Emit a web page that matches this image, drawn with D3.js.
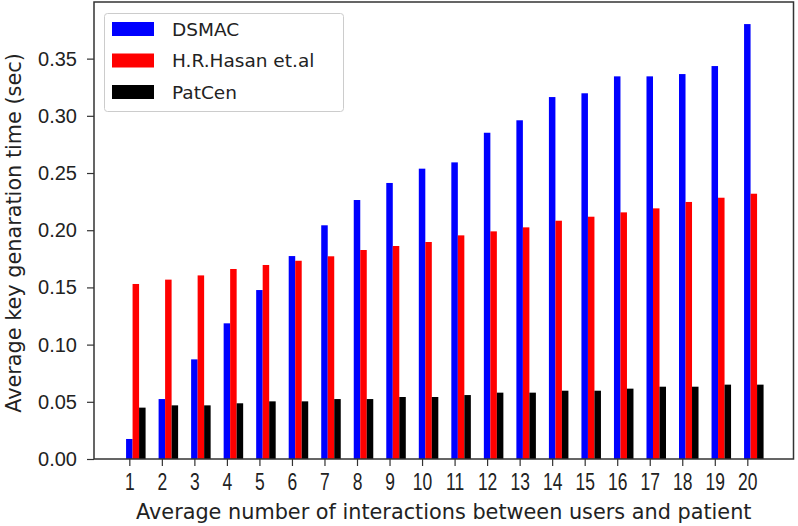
<!DOCTYPE html>
<html>
<head>
<meta charset="utf-8">
<script src="https://cdn.jsdelivr.net/npm/d3@7"></script>
<style>
  html, body { margin: 0; padding: 0; background: #fff; }
  svg { display: block; font-family: "DejaVu Sans", sans-serif; }
</style>
</head>
<body>
<svg id="chart" width="798" height="526"></svg>
<script>
const categories = [1,2,3,4,5,6,7,8,9,10,11,12,13,14,15,16,17,18,19,20];
const dsmac = [0.0175,0.0524,0.0871,0.1186,0.1477,0.1774,0.2043,0.2264,0.2413,0.2538,0.2593,0.2852,0.2961,0.3164,0.3197,0.3345,0.3345,0.3365,0.3435,0.3802];
const hasan = [0.1530,0.1568,0.1605,0.1661,0.1696,0.1733,0.1772,0.1827,0.1862,0.1897,0.1955,0.1990,0.2025,0.2083,0.2118,0.2156,0.2191,0.2247,0.2284,0.2319];
const patcen = [0.0449,0.0469,0.0469,0.0487,0.0504,0.0504,0.0524,0.0524,0.0542,0.0542,0.0559,0.0580,0.0580,0.0597,0.0597,0.0615,0.0632,0.0632,0.0650,0.0650];
const seriesNames = ["DSMAC", "H.R.Hasan et.al", "PatCen"];
const seriesColors = ["#0000ff", "#ff0000", "#000000"];
const yTicks = [0.00,0.05,0.10,0.15,0.20,0.25,0.30,0.35];
const xLabel = "Average number of interactions between users and patient";
const yLabel = "Average key genaration time (sec)";

const series = [dsmac, hasan, patcen];
const barW = 0.2;

const svg = d3.select("#chart");
const L = 94, R = 793.5, T = 2, B = 459;

const x = d3.scaleLinear().domain([-0.086, 21.42]).range([L, R]);
const y = d3.scaleLinear().domain([0, 0.3995]).range([B, T]);

// bars
series.forEach((vals, si) => {
  svg.append("g").selectAll("rect")
    .data(categories.map((c, i) => ({c, v: vals[i]})))
    .join("rect")
    .attr("x", d => x(d.c + si * barW - barW / 2))
    .attr("width", d => x(d.c + si * barW + barW / 2) - x(d.c + si * barW - barW / 2))
    .attr("y", d => y(d.v))
    .attr("height", d => y(0) - y(d.v))
    .attr("fill", seriesColors[si]);
});

// axes
const xAxis = d3.axisBottom(x).tickValues(categories).tickFormat(d3.format("d")).tickSize(7).tickPadding(8);
const yAxis = d3.axisLeft(y).tickValues(yTicks).tickFormat(d3.format(".2f")).tickSize(7).tickPadding(10);

const gx = svg.append("g").attr("transform", `translate(0,${B})`).call(xAxis);
const gy = svg.append("g").attr("transform", `translate(${L},0)`).call(yAxis);
[gx, gy].forEach(g => {
  g.select(".domain").remove();
  g.selectAll(".tick line").attr("stroke", "#333").attr("stroke-width", 1.2);
  g.selectAll(".tick text").attr("fill", "#222");
});
gy.selectAll(".tick text").style("font-size", "20px");
gx.selectAll(".tick text").style("font-size", "23px").attr("transform", "scale(0.76,1)");

// frame
svg.append("rect").attr("x", L).attr("y", T).attr("width", R - L).attr("height", B - T)
  .attr("fill", "none").attr("stroke", "#333").attr("stroke-width", 1.5);

// labels
svg.append("text").attr("x", (L + R) / 2).attr("y", 519).attr("text-anchor", "middle")
  .attr("fill", "#222").style("font-size", "20.8px").text(xLabel);
svg.append("text").attr("transform", `translate(20.5,233) rotate(-90)`).attr("text-anchor", "middle")
  .attr("fill", "#222").style("font-size", "20.8px").text(yLabel);

// legend
const lg = svg.append("g");
lg.append("rect").attr("x", 104.5).attr("y", 13.5).attr("width", 239).attr("height", 98).attr("rx", 3)
  .attr("fill", "#fff").attr("fill-opacity", 0.8).attr("stroke", "#ccc").attr("stroke-width", 1);
seriesNames.forEach((n, i) => {
  const cy = 29 + i * 31.5;
  lg.append("rect").attr("x", 112).attr("y", cy - 7).attr("width", 42).attr("height", 14).attr("fill", seriesColors[i]);
  lg.append("text").attr("x", 172).attr("y", cy).attr("dy", "0.36em").attr("fill", "#222")
    .style("font-size", "18.5px").text(n);
});
</script>
</body>
</html>
